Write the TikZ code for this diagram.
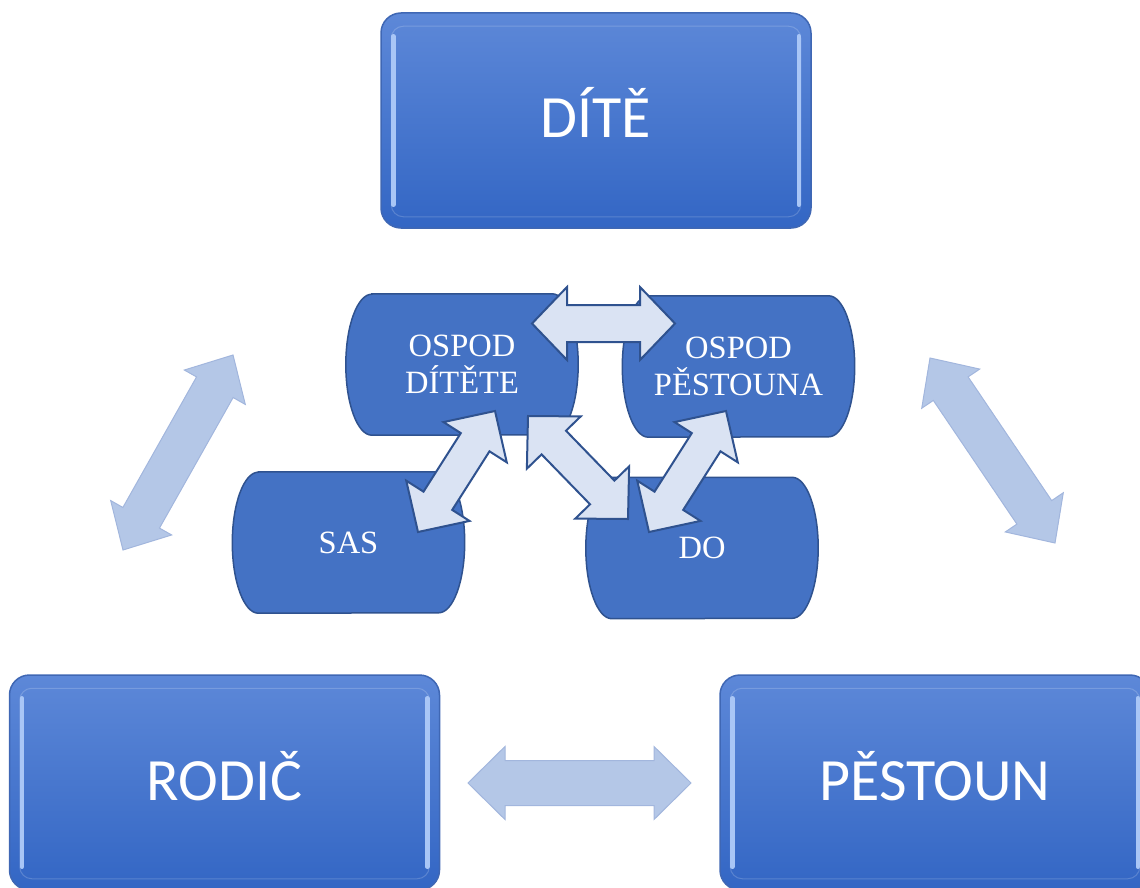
\documentclass[tikz,border=0pt]{standalone}
\usepackage{fontspec}
\setmainfont{Liberation Serif}
\newfontfamily\calib{Carlito}
\usetikzlibrary{calc,backgrounds}
\definecolor{boxtop}{HTML}{5D88D8}
\definecolor{boxbot}{HTML}{3366C4}
\definecolor{boxrim}{HTML}{3F67B4}
\definecolor{hilite}{HTML}{A9C6F6}
\definecolor{cylfill}{HTML}{4472C4}
\definecolor{cylline}{HTML}{2F528F}
\definecolor{arrfill}{HTML}{DAE3F3}
\definecolor{bigfill}{HTML}{B4C7E7}
\definecolor{bigline}{HTML}{A2B6DD}
\tikzset{
 bigbox/.style={rounded corners=20pt, top color=boxtop, bottom color=boxbot, draw=boxrim, line width=1.5pt,
   minimum width=430pt, minimum height=215pt, inner sep=0pt, text=white,
   font=\calib\fontsize{60}{60}\selectfont, text height=35pt, text depth=0pt},
 cyl/.style={minimum width=180pt, minimum height=141pt, inner sep=0pt, text=white, align=center,
   font=\fontsize{32.5}{37}\selectfont},
 cylshape/.style={fill=cylfill, draw=cylline, line width=1.5pt},
 midarrow/.style={fill=arrfill, draw=cylline, line width=2pt, line join=miter},
 bigarrow/.style={fill=bigfill, draw=bigline, line width=1pt, line join=miter},
 hl/.style={line width=4.5pt, draw=hilite, line cap=round},
 innerrim/.style={rounded corners=12pt, draw=white, draw opacity=0.18, line width=1pt},
}
\newcommand{\bevel}[1]{%
 \draw[innerrim] ([xshift=11pt,yshift=-14pt]#1.north west) rectangle ([xshift=-11pt,yshift=12pt]#1.south east);
 \draw[hl] ([xshift=13pt,yshift=-24pt]#1.north west) -- ([xshift=13pt,yshift=24pt]#1.south west);
 \draw[hl] ([xshift=-13pt,yshift=-24pt]#1.north east) -- ([xshift=-13pt,yshift=24pt]#1.south east);
}
\newcommand{\cylpath}[1]{%
 \path[cylshape] (#1.north west) -- (#1.north east)
   arc[start angle=90, end angle=-90, x radius=26pt, y radius=70.5pt] -- (#1.south west)
   arc[start angle=270, end angle=90, x radius=26pt, y radius=70.5pt] -- cycle;}
% #1 style, #2 tip A, #3 tip B, #4 shaft half width, #5 head half width, #6 head length
\newcommand{\dblarrow}[6]{%
 \coordinate (#2#3ha) at ($(#2)!#6!(#3)$);
 \coordinate (#2#3hb) at ($(#3)!#6!(#2)$);
 \draw[#1] (#2) -- ($(#2#3ha)!#5!90:(#3)$) -- ($(#2#3ha)!#4!90:(#3)$)
   -- ($(#2#3hb)!#4!-90:(#2)$) -- ($(#2#3hb)!#5!-90:(#2)$) -- (#3)
   -- ($(#2#3hb)!#5!90:(#2)$) -- ($(#2#3hb)!#4!90:(#2)$)
   -- ($(#2#3ha)!#4!-90:(#3)$) -- ($(#2#3ha)!#5!-90:(#3)$) -- cycle;}
\begin{document}
\begin{tikzpicture}[x=1pt,y=-1pt]
\clip (0,0) rectangle (1140,888);
% big boxes
\node[bigbox] (dite) at (596,120.5) {DÍTĚ};
\node[bigbox] (rodic) at (224.5,782.5) {RODIČ};
\node[bigbox] (pestoun) at (935,782.5) {PĚSTOUN};
\bevel{dite}
\bevel{rodic}
\bevel{pestoun}
% inner shapes
\node[cyl] (od) at (462,364.5) {OSPOD\\DÍTĚTE};
\node[cyl] (op) at (738.5,366.5) {OSPOD\\PĚSTOUNA};
\node[cyl] (sas) at (348.5,542.5) {SAS};
\node[cyl] (do) at (702,548) {DO};
\begin{scope}[on background layer]
 \cylpath{od}
 \cylpath{op}
 \cylpath{sas}
 \cylpath{do}
\end{scope}
% arrow tips
\coordinate (t1a) at (532,323.5);
\coordinate (t1b) at (675,323.5);
\coordinate (t2a) at (418,532);
\coordinate (t2b) at (495,411);
\coordinate (t3a) at (528,416);
\coordinate (t3b) at (628,519);
\coordinate (t4a) at (649,532);
\coordinate (t4b) at (726,411);
\coordinate (b1a) at (123,550);
\coordinate (b1b) at (233,355);
\coordinate (b2a) at (930,358);
\coordinate (b2b) at (1055,543);
\coordinate (b3a) at (468,783);
\coordinate (b3b) at (691,783);
% middle arrows
\dblarrow{midarrow}{t1a}{t1b}{18.5pt}{36.5pt}{35pt}
\dblarrow{midarrow}{t2a}{t2b}{17pt}{37.5pt}{37pt}
\dblarrow{midarrow}{t3a}{t3b}{17pt}{37.5pt}{37pt}
\dblarrow{midarrow}{t4a}{t4b}{17pt}{37.5pt}{37pt}
% big arrows
\dblarrow{bigarrow}{b1a}{b1b}{21pt}{35pt}{37pt}
\dblarrow{bigarrow}{b2a}{b2b}{21pt}{35pt}{37pt}
\dblarrow{bigarrow}{b3a}{b3b}{22.5pt}{36.5pt}{37pt}
\end{tikzpicture}
\end{document}
